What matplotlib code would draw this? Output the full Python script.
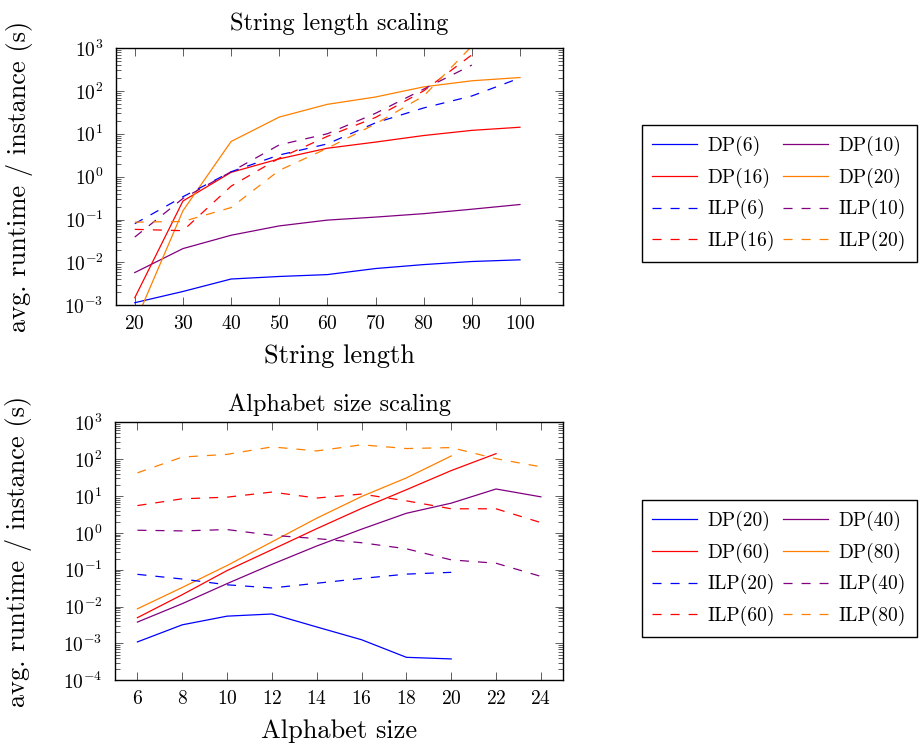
import matplotlib
matplotlib.use("Agg")
import matplotlib.pyplot as plt
from matplotlib.ticker import LogLocator, NullFormatter

plt.rcParams['font.family'] = 'serif'
plt.rcParams['font.serif'] = ['cmr10']
plt.rcParams['mathtext.fontset'] = 'cm'
plt.rcParams['axes.formatter.use_mathtext'] = True
plt.rcParams['lines.scale_dashes'] = False

# string length scaling
str_len = [20, 30, 40, 50, 60, 70, 80, 90, 100]
dp6 = [1.15e-3, 2.1e-3, 4.1e-3, 4.7e-3, 5.2e-3, 7.2e-3, 8.9e-3, 1.05e-2, 1.15e-2]
dp10 = [5.8e-3, 0.021, 0.043, 0.071, 0.097, 0.114, 0.137, 0.174, 0.224]
dp16 = [1.5e-3, 0.27, 1.26, 2.6, 4.6, 6.4, 9.1, 12.0, 14.2]
dp20 = [3.8e-4, 0.16, 6.6, 24.5, 48.6, 72, 124, 172, 205]
ilp6 = [0.08, 0.34, 1.3, 3.2, 5.8, 18, 40, 76, 200]
ilp10 = [0.039, 0.31, 1.3, 5.5, 10, 30, 110, 400]
ilp16 = [0.059, 0.055, 0.6, 2.7, 8.7, 24, 100, 690]
ilp20 = [0.087, 0.09, 0.19, 1.4, 4.6, 17, 76, 1100]

# alphabet size scaling
alpha = [6, 8, 10, 12, 14, 16, 18, 20, 22, 24]
a_dp20 = [1.1e-3, 3.2e-3, 5.5e-3, 6.3e-3, 2.8e-3, 1.26e-3, 4.2e-4, 3.8e-4]
a_dp40 = [3.8e-3, 0.012, 0.042, 0.14, 0.44, 1.26, 3.4, 6.4, 15.5, 9.5]
a_dp60 = [5e-3, 0.021, 0.095, 0.35, 1.3, 4.6, 14.8, 49, 141]
a_dp80 = [8.7e-3, 0.033, 0.13, 0.57, 2.5, 9.7, 31, 122]
a_ilp20 = [0.075, 0.056, 0.039, 0.032, 0.043, 0.058, 0.076, 0.085]
a_ilp40 = [1.18, 1.13, 1.23, 0.86, 0.7, 0.54, 0.37, 0.185, 0.15, 0.066]
a_ilp60 = [5.5, 8.4, 9.3, 12.8, 8.8, 11.3, 7.4, 4.5, 4.5, 1.9]
a_ilp80 = [42.5, 114, 135, 215, 167, 245, 194, 206, 103, 62]

blue, purple, red, orange = '#0000ff', '#800080', '#ff0000', '#ff8000'
lw = 0.9
dash = (0, (6.5, 6.5))

W, H = 921, 743
fig = plt.figure(figsize=(W / 100, H / 100), dpi=100)


def box(l, t, r, b):
    return [l / W, 1 - b / H, (r - l) / W, (b - t) / H]


def style(ax, ymin, ymax, xlab_y):
    ax.set_yscale('log')
    ax.set_ylim(ymin, ymax)
    ax.yaxis.set_major_locator(LogLocator(base=10, numticks=20))
    ax.yaxis.set_minor_locator(LogLocator(base=10, subs=range(2, 10), numticks=20))
    ax.yaxis.set_minor_formatter(NullFormatter())
    ax.tick_params(which='both', direction='in', top=True, right=True,
                   labelsize=14, width=0.6, color='#444444')
    ax.tick_params(which='major', length=6, pad=7)
    ax.tick_params(axis='y', which='major', pad=9)
    ax.tick_params(which='minor', length=3.5)
    for s in ax.spines.values():
        s.set_linewidth(1.0)
    ax.yaxis.set_label_coords(-0.186, 0.5)
    ax.xaxis.set_label_coords(0.5, xlab_y)


def legend(ax, top):
    h, l = ax.get_legend_handles_labels()
    order = [0, 2, 4, 6, 1, 3, 5, 7]
    ax.legend([h[i] for i in order], [l[i] for i in order],
              ncol=2, loc='upper left', bbox_to_anchor=(641.7 / W, 1 - top / H),
              bbox_transform=fig.transFigure, borderaxespad=0, fontsize=14,
              frameon=True, fancybox=False, edgecolor='black', framealpha=1,
              handlelength=2.3, columnspacing=0.4, labelspacing=0.6,
              handletextpad=0.55, borderpad=0.55)
    ax.get_legend().get_frame().set_linewidth(1.0)


ax1 = fig.add_axes(box(116, 48, 563.3, 305.3))
ax1.plot(str_len, dp6, color=blue, lw=lw, label='DP(6)')
ax1.plot(str_len, dp10, color=purple, lw=lw, label='DP(10)')
ax1.plot(str_len, dp16, color=red, lw=lw, label='DP(16)')
ax1.plot(str_len, dp20, color=orange, lw=lw, label='DP(20)')
ax1.plot(str_len, ilp6, color=blue, lw=lw, ls=dash, label='ILP(6)')
ax1.plot(str_len[:8], ilp10, color=purple, lw=lw, ls=dash, label='ILP(10)')
ax1.plot(str_len[:8], ilp16, color=red, lw=lw, ls=dash, label='ILP(16)')
ax1.plot(str_len[:8], ilp20, color=orange, lw=lw, ls=dash, label='ILP(20)')
style(ax1, 1e-3, 1e3, -0.152)
ax1.set_xlim(16.1, 109)
ax1.set_xticks(str_len)
ax1.set_title('String length scaling', fontsize=17.5, pad=13)
ax1.set_xlabel('String length', fontsize=19)
ax1.set_ylabel('avg. runtime / instance (s)', fontsize=19)
legend(ax1, 125)

ax2 = fig.add_axes(box(115, 422.3, 563.3, 680.3))
ax2.plot(alpha[:8], a_dp20, color=blue, lw=lw, label='DP(20)')
ax2.plot(alpha, a_dp40, color=purple, lw=lw, label='DP(40)')
ax2.plot(alpha[:9], a_dp60, color=red, lw=lw, label='DP(60)')
ax2.plot(alpha[:8], a_dp80, color=orange, lw=lw, label='DP(80)')
ax2.plot(alpha[:8], a_ilp20, color=blue, lw=lw, ls=dash, label='ILP(20)')
ax2.plot(alpha, a_ilp40, color=purple, lw=lw, ls=dash, label='ILP(40)')
ax2.plot(alpha, a_ilp60, color=red, lw=lw, ls=dash, label='ILP(60)')
ax2.plot(alpha, a_ilp80, color=orange, lw=lw, ls=dash, label='ILP(80)')
style(ax2, 1e-4, 1e3, -0.15)
ax2.set_xlim(5, 25)
ax2.set_xticks(alpha)
ax2.set_title('Alphabet size scaling', fontsize=17.5, pad=8)
ax2.set_xlabel('Alphabet size', fontsize=19)
ax2.set_ylabel('avg. runtime / instance (s)', fontsize=19)
legend(ax2, 500)

fig.savefig('out.png', dpi=100)
